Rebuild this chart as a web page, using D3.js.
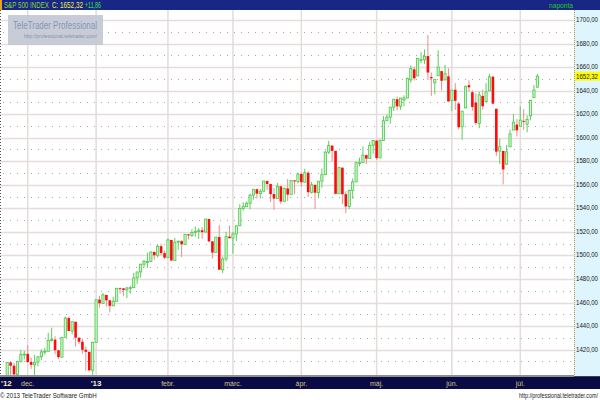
<!DOCTYPE html>
<html><head><meta charset="utf-8">
<script src="https://cdn.jsdelivr.net/npm/d3@7"></script>
<style>body{margin:0;background:#fff}svg{display:block;font-family:"Liberation Sans",Arial,sans-serif}</style>
</head><body><svg id="c" width="600" height="400"></svg>
<script>
const dates=["2012-11-23","2012-11-26","2012-11-27","2012-11-28","2012-11-29","2012-11-30",
"2012-12-03","2012-12-04","2012-12-05","2012-12-06","2012-12-07","2012-12-10","2012-12-11","2012-12-12","2012-12-13","2012-12-14","2012-12-17","2012-12-18","2012-12-19","2012-12-20","2012-12-21","2012-12-24","2012-12-26","2012-12-27","2012-12-28","2012-12-31",
"2013-01-02","2013-01-03","2013-01-04","2013-01-07","2013-01-08","2013-01-09","2013-01-10","2013-01-11","2013-01-14","2013-01-15","2013-01-16","2013-01-17","2013-01-18","2013-01-22","2013-01-23","2013-01-24","2013-01-25","2013-01-28","2013-01-29","2013-01-30","2013-01-31",
"2013-02-01","2013-02-04","2013-02-05","2013-02-06","2013-02-07","2013-02-08","2013-02-11","2013-02-12","2013-02-13","2013-02-14","2013-02-15","2013-02-19","2013-02-20","2013-02-21","2013-02-22","2013-02-25","2013-02-26","2013-02-27","2013-02-28",
"2013-03-01","2013-03-04","2013-03-05","2013-03-06","2013-03-07","2013-03-08","2013-03-11","2013-03-12","2013-03-13","2013-03-14","2013-03-15","2013-03-18","2013-03-19","2013-03-20","2013-03-21","2013-03-22","2013-03-25","2013-03-26","2013-03-27","2013-03-28",
"2013-04-01","2013-04-02","2013-04-03","2013-04-04","2013-04-05","2013-04-08","2013-04-09","2013-04-10","2013-04-11","2013-04-12","2013-04-15","2013-04-16","2013-04-17","2013-04-18","2013-04-19","2013-04-22","2013-04-23","2013-04-24","2013-04-25","2013-04-26","2013-04-29","2013-04-30",
"2013-05-01","2013-05-02","2013-05-03","2013-05-06","2013-05-07","2013-05-08","2013-05-09","2013-05-10","2013-05-13","2013-05-14","2013-05-15","2013-05-16","2013-05-17","2013-05-20","2013-05-21","2013-05-22","2013-05-23","2013-05-24","2013-05-28","2013-05-29","2013-05-30","2013-05-31",
"2013-06-03","2013-06-04","2013-06-05","2013-06-06","2013-06-07","2013-06-10","2013-06-11","2013-06-12","2013-06-13","2013-06-14","2013-06-17","2013-06-18","2013-06-19","2013-06-20","2013-06-21","2013-06-24","2013-06-25","2013-06-26","2013-06-27","2013-06-28",
"2013-07-01","2013-07-02","2013-07-03","2013-07-05","2013-07-08","2013-07-09"];

const opens=[1391.03,1409.15,1406.29,1398.77,1409.96,1415.95,
1416.34,1409.46,1407.05,1409.43,1413.95,1418.07,1418.55,1427.84,1428.48,1419.45,1413.54,1430.47,1446.79,1435.81,1443.67,1430.15,1426.66,1419.83,1418.10,1402.43,
1426.19,1462.42,1459.37,1466.47,1461.89,1457.15,1461.02,1472.12,1472.05,1470.67,1472.33,1472.63,1480.95,1485.98,1492.56,1494.81,1494.82,1502.96,1500.18,1507.84,1501.96,
1498.11,1513.17,1495.71,1511.29,1512.12,1509.39,1517.93,1517.01,1519.43,1520.33,1521.38,1519.79,1530.94,1511.95,1502.42,1515.60,1487.85,1496.94,1515.99,
1514.68,1518.20,1525.20,1539.79,1541.46,1544.26,1551.15,1556.22,1552.48,1554.52,1563.21,1560.70,1552.10,1548.34,1558.71,1545.90,1556.89,1551.69,1563.75,1562.86,
1569.18,1562.17,1570.25,1553.69,1559.98,1553.26,1563.11,1568.61,1587.73,1593.30,1588.84,1552.36,1574.57,1552.03,1541.61,1555.25,1562.50,1578.78,1578.93,1585.16,1582.34,1593.58,
1597.55,1582.77,1597.60,1614.40,1617.55,1625.95,1632.69,1626.69,1632.10,1633.75,1649.13,1658.07,1652.45,1665.71,1666.20,1669.39,1651.62,1646.67,1652.63,1656.57,1649.14,1652.13,
1631.71,1640.73,1629.05,1609.29,1625.27,1644.67,1638.64,1629.94,1612.15,1635.52,1630.64,1639.77,1651.83,1624.62,1588.62,1588.77,1577.52,1592.27,1606.44,1611.12,
1609.78,1614.29,1611.48,1618.65,1634.20,1642.89];

const highs=[1409.16,1409.15,1409.01,1410.31,1419.70,1418.86,
1423.73,1413.14,1415.56,1413.95,1420.34,1421.64,1434.27,1438.59,1431.36,1419.45,1430.67,1448.00,1447.75,1443.70,1443.67,1430.15,1429.42,1422.80,1418.10,1426.74,
1462.43,1465.47,1467.94,1466.47,1461.89,1464.73,1472.30,1472.75,1472.05,1473.31,1473.96,1485.16,1485.98,1492.56,1496.13,1502.27,1503.26,1503.23,1509.35,1509.94,1504.19,
1514.41,1513.17,1514.96,1512.53,1512.90,1518.31,1518.31,1522.29,1524.69,1523.14,1524.24,1530.94,1530.94,1511.95,1515.64,1525.84,1498.99,1520.08,1525.34,
1519.99,1525.27,1543.47,1545.25,1545.78,1552.48,1556.27,1556.77,1556.39,1563.32,1563.62,1560.70,1557.25,1561.56,1558.71,1557.74,1564.91,1563.95,1564.07,1570.28,
1570.57,1573.66,1571.47,1562.60,1559.98,1563.07,1573.89,1589.07,1597.35,1593.30,1588.84,1575.35,1574.57,1554.38,1555.89,1565.55,1579.58,1583.00,1592.64,1585.78,1596.65,1597.57,
1597.55,1598.60,1618.46,1619.77,1626.03,1632.78,1635.01,1633.70,1636.00,1651.10,1661.49,1660.51,1667.47,1672.84,1674.93,1687.18,1655.50,1649.78,1674.21,1656.57,1661.91,1658.99,
1640.42,1646.53,1629.31,1622.56,1644.40,1648.69,1640.13,1637.71,1639.25,1640.80,1646.50,1654.19,1652.45,1624.62,1599.19,1588.77,1593.79,1606.83,1620.07,1615.94,
1626.61,1624.26,1618.97,1632.07,1644.68,1654.18];

const lows=[1391.03,1397.68,1398.03,1385.43,1409.04,1411.63,
1408.46,1403.65,1398.23,1405.93,1410.90,1415.64,1418.55,1426.76,1416.00,1411.88,1413.54,1430.47,1435.80,1432.82,1422.58,1424.66,1416.43,1401.80,1401.58,1398.11,
1426.19,1455.53,1458.99,1456.62,1451.64,1457.15,1461.02,1467.58,1465.69,1463.76,1467.60,1472.63,1475.81,1481.16,1489.90,1489.46,1494.82,1496.33,1498.09,1500.11,1496.76,
1498.11,1495.02,1495.71,1504.71,1498.49,1509.39,1513.61,1515.61,1515.93,1514.02,1514.14,1519.79,1511.41,1497.29,1502.42,1487.85,1485.01,1494.88,1514.46,
1501.48,1512.29,1525.20,1538.11,1541.46,1539.22,1547.36,1548.24,1548.25,1554.52,1555.74,1545.13,1538.57,1548.34,1543.55,1545.90,1546.22,1551.69,1551.90,1561.08,
1558.47,1562.17,1549.80,1552.52,1539.50,1548.63,1557.54,1568.61,1586.17,1579.97,1552.28,1552.36,1543.69,1536.03,1539.40,1548.19,1562.50,1575.80,1578.93,1577.56,1582.34,1586.50,
1581.28,1582.77,1597.60,1614.21,1611.82,1622.70,1623.09,1623.71,1626.74,1633.75,1646.68,1648.60,1652.45,1663.52,1662.67,1648.86,1635.53,1636.88,1652.63,1640.05,1648.61,1630.74,
1622.72,1623.62,1607.09,1598.23,1625.27,1639.26,1622.92,1610.92,1608.07,1623.96,1630.34,1639.77,1628.91,1584.32,1577.70,1560.33,1577.09,1592.27,1606.44,1601.06,
1609.78,1606.77,1604.57,1614.71,1634.20,1642.89];

const closes=[1409.15,1406.29,1398.94,1409.93,1415.95,1416.18,
1409.46,1407.05,1409.28,1413.94,1418.07,1418.55,1427.84,1428.48,1419.45,1413.58,1430.36,1446.79,1435.81,1443.69,1430.15,1426.66,1419.83,1418.10,1402.43,1426.19,
1462.42,1459.37,1466.47,1461.89,1457.15,1461.02,1472.12,1472.05,1470.68,1472.34,1472.63,1480.94,1485.98,1492.56,1494.81,1494.82,1502.96,1500.18,1507.84,1501.96,1498.11,
1513.17,1495.71,1511.29,1512.12,1509.39,1517.93,1517.01,1519.43,1520.33,1521.38,1519.79,1530.94,1511.95,1502.42,1515.60,1487.85,1496.94,1515.99,1514.68,
1518.20,1525.20,1539.79,1541.46,1544.26,1551.18,1556.22,1552.48,1554.52,1563.23,1560.70,1552.10,1548.34,1558.71,1545.80,1556.89,1551.69,1563.77,1562.85,1569.19,
1562.17,1570.25,1553.69,1559.98,1553.28,1563.07,1568.61,1587.73,1593.37,1588.85,1552.36,1574.57,1552.01,1541.61,1555.25,1562.50,1578.78,1578.79,1585.16,1582.24,1593.61,1597.57,
1582.70,1597.59,1614.42,1617.50,1625.96,1632.69,1626.67,1633.70,1633.77,1650.34,1658.78,1650.47,1667.47,1666.29,1669.16,1655.35,1650.51,1649.60,1660.06,1648.36,1654.41,1630.74,
1640.42,1631.38,1608.90,1622.56,1643.38,1642.81,1626.13,1612.52,1636.36,1626.73,1639.04,1651.81,1628.93,1588.19,1592.43,1573.09,1588.03,1603.26,1613.20,1606.28,
1614.96,1614.08,1615.41,1631.89,1640.46,1652.32];

const yTicks=[1420,1440,1460,1480,1500,1520,1540,1560,1580,1600,1620,1640,1660,1680,1700];
const monthKeys=["2012-12","2013-01","2013-02","2013-03","2013-04","2013-05","2013-06","2013-07"];
const monthLabels=["dec.","'13","febr.","márc.","ápr.","máj.","jún.","júl."];
const firstYearLabel="'12";
const instrument="S&P 500 INDEX";
const lastClose=1652.32, lastChange=11.86;
const periodLabel="naponta";

const W=600,H=400,PR=574,PT=10,PB=375;
const svg=d3.select("#c");
const x=d3.scaleLinear().domain([-2.1,166]).range([0,575]);
const y=d3.scaleLinear().domain([1420,1700]).range([349.6,20]);
const loc=d3.formatLocale({decimal:",",thousands:" ",grouping:[3],currency:["",""]});
const fmt=loc.format(".2f"), fmtS=loc.format("+.2f");

// text squeezed horizontally to a target width (real text, scaled via transform)
function sText(parent,tx,ty,str,size,width,fill,weight){
  const gg=parent.append("g");
  const t=gg.append("text").attr("x",0).attr("y",0).attr("font-size",size)
    .attr("fill",fill).attr("font-weight",weight||"normal").text(str);
  const nat=t.node().getComputedTextLength()||width;
  gg.attr("transform",`translate(${tx},${ty}) scale(${width/nat},1)`);
  return gg;
}

svg.append("rect").attr("width",W).attr("height",H).attr("fill","#fff");
svg.append("defs").append("clipPath").attr("id","clip").append("rect")
  .attr("x",0).attr("y",PT).attr("width",PR).attr("height",PB-PT);

// right axis panel
svg.append("rect").attr("x",PR).attr("y",PT).attr("width",W-PR).attr("height",PB-PT+2).attr("fill","#dff5fd");

// grid
const g=svg.append("g");
const minor=[yTicks[0]-10].concat(yTicks.map(v=>v+10)).filter(v=>y(v)>PT+1&&y(v)<PB-1);
g.selectAll("line.mn").data(minor).join("line").attr("class","mn")
  .attr("x1",3).attr("x2",PR).attr("y1",d=>Math.round(y(d))+0.5).attr("y2",d=>Math.round(y(d))+0.5)
  .attr("stroke","#a8a8a8").attr("stroke-dasharray","1,6");
g.selectAll("line.mj").data(yTicks).join("line").attr("class","mj")
  .attr("x1",0).attr("x2",PR).attr("y1",d=>Math.round(y(d))+0.5).attr("y2",d=>Math.round(y(d))+0.5)
  .attr("stroke","#e6dcdc").attr("stroke-width",1.3);
const monthIdx=monthKeys.map(k=>dates.findIndex(d=>d.startsWith(k)));
g.selectAll("line.v").data(monthIdx).join("line").attr("class","v")
  .attr("x1",d=>x(d)).attr("x2",d=>x(d)).attr("y1",PT).attr("y2",PB)
  .attr("stroke","#e4dbdb").attr("stroke-width",1.5);

// candles
const data=dates.map((d,i)=>({i,o:opens[i],h:highs[i],l:lows[i],c:closes[i]}));
const gc=svg.append("g").attr("clip-path","url(#clip)");
gc.selectAll("line.w").data(data).join("line").attr("class","w")
  .attr("x1",d=>x(d.i)).attr("x2",d=>x(d.i)).attr("y1",d=>y(d.h)).attr("y2",d=>y(d.l))
  .attr("stroke",d=>d.c>=d.o?"#5ccf5c":"#f08c8c").attr("stroke-width",1);
gc.selectAll("rect.b").data(data).join("rect").attr("class","b")
  .attr("x",d=>x(d.i)-(d.c>=d.o?1.1:1.3)).attr("width",d=>d.c>=d.o?2.2:2.6)
  .attr("y",d=>y(Math.max(d.o,d.c)))
  .attr("height",d=>Math.max(0.9,Math.abs(y(d.o)-y(d.c))))
  .attr("fill",d=>d.c>=d.o?"#cdf5cd":"#ff0a0a")
  .attr("stroke",d=>d.c>=d.o?"#48c848":"none").attr("stroke-width",0.8);

// left edge ticks & axis border
svg.append("line").attr("x1",0.5).attr("x2",0.5).attr("y1",PT).attr("y2",PB)
  .attr("stroke","#555").attr("stroke-dasharray","1,2");
svg.append("line").attr("x1",PR+0.5).attr("x2",PR+0.5).attr("y1",PT).attr("y2",PB+2)
  .attr("stroke","#b89a30").attr("stroke-dasharray","1,1");

// y labels
const gy=svg.append("g");
yTicks.forEach(v=>sText(gy,576,y(v)+2,fmt(v),8,22,"#1a1a1a"));
svg.append("rect").attr("x",575).attr("y",y(lastClose)-4.5).attr("width",25).attr("height",9).attr("fill","#ffff00");
sText(svg,576,y(lastClose)+3,fmt(lastClose),8,22,"#1a1a1a");

// header
svg.append("rect").attr("x",0).attr("y",0).attr("width",W).attr("height",PT).attr("fill","#172783");
svg.append("rect").attr("x",0).attr("y",0).attr("width",2).attr("height",PT).attr("fill","#f0a020");
sText(svg,4,8,instrument,8.5,45,"#8cd23c");
sText(svg,52,8,"C:",8.5,6,"#f0f040");
sText(svg,60,8,fmt(lastClose),8.5,23,"#f0f040");
sText(svg,85,8,fmtS(lastChange),8.5,16,"#3ce03c");
sText(svg,549,8,periodLabel,7.5,24,"#22c822");

// watermark
svg.append("rect").attr("x",8).attr("y",15).attr("width",95).attr("height",30).attr("fill","#c3c8d2").attr("opacity",0.92);
sText(svg,13,29,"TeleTrader Professional",11,84,"#8494bd");
sText(svg,24,38,"http://professional.teletrader.com/",6,73,"#8590b4");

// bottom band
svg.append("rect").attr("x",0).attr("y",PB).attr("width",PR).attr("height",2).attr("fill","#8e8e8e");
svg.append("rect").attr("x",0).attr("y",PB+2).attr("width",W).attr("height",12).attr("fill","#0a0a44");
svg.append("rect").attr("x",PR).attr("y",PB+1).attr("width",W-PR).attr("height",1).attr("fill","#404060");
svg.append("text").attr("x",1).attr("y",386).attr("font-size",8).attr("font-weight","bold")
  .attr("fill","#f4eccc").text(firstYearLabel);
svg.append("g").selectAll("text").data(monthIdx).join("text")
  .attr("x",d=>x(d)).attr("y",386).attr("text-anchor","middle")
  .attr("font-size",(d,i)=>monthLabels[i].startsWith("'")?8:7)
  .attr("font-weight",(d,i)=>monthLabels[i].startsWith("'")?"bold":"normal")
  .attr("fill",(d,i)=>monthLabels[i].startsWith("'")?"#f4eccc":"#d4c488")
  .text((d,i)=>monthLabels[i]);

// footer
sText(svg,0,398,"© 2013 TeleTrader Software GmbH",8,97,"#222");
sText(svg,519,398,"http://professional.teletrader.com/",7,79,"#222");
</script></body></html>
